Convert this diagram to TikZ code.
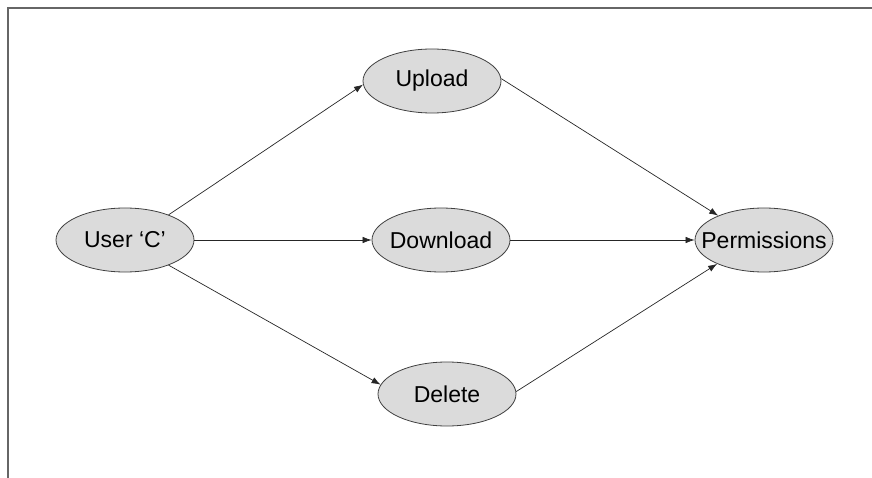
\documentclass[tikz,border=0pt]{standalone}
\usepackage{fontspec}
\setmainfont{Liberation Sans}
\usetikzlibrary{shapes.geometric,arrows.meta}
\begin{document}
\begin{tikzpicture}[x=1pt,y=-1pt,
  oval/.style={ellipse, draw=black!75, fill=black!14, line width=0.8pt,
    minimum width=138pt, minimum height=64pt, inner sep=0pt, font=\fontsize{23}{26}\selectfont},
  conn/.style={draw=black!85, line width=0.7pt, -{Latex[length=9pt,width=6.5pt]}}]
\useasboundingbox (0,0) rectangle (872,478);
\draw[black!60, line width=2pt] (8,478) -- (8,8) -- (872,8);
\node[oval] (user) at (125,240) {\makebox[0pt]{User ‘C’}};
\node[oval] (up) at (432,81) {\makebox[0pt]{Upload}};
\node[oval] (down) at (441,240) {\makebox[0pt]{Download}};
\node[oval] (del) at (447,394) {\makebox[0pt]{Delete}};
\node[oval] (perm) at (764,240) {\makebox[0pt]{Permissions}};
\draw[conn] (user.30) -- (up.183);
\draw[conn] (user.east) -- (down.west);
\draw[conn] (user.-30) -- (del.172);
\draw[conn] (up.2) -- (perm.152);
\draw[conn] (down.east) -- (perm.west);
\draw[conn] (del.2) -- (perm.207);
\end{tikzpicture}
\end{document}
